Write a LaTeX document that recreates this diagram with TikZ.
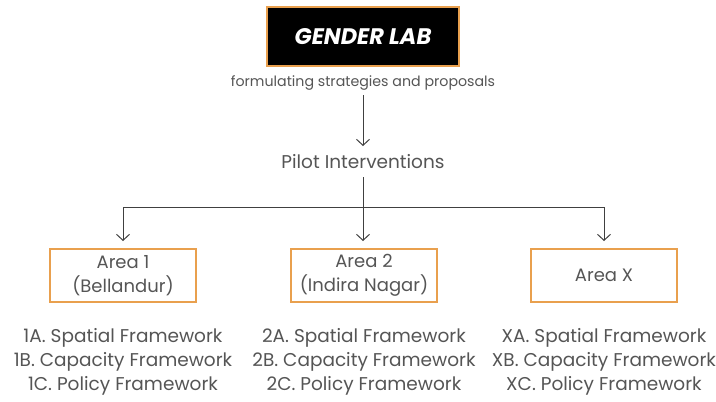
\documentclass[tikz,border=0pt]{standalone}
\usepackage{fontspec}
\setmainfont{Poppins}
\usetikzlibrary{arrows.meta}
\definecolor{txt}{HTML}{555555}
\definecolor{ln}{HTML}{404040}
\definecolor{org}{HTML}{E9A04E}
\begin{document}
\begin{tikzpicture}[x=1pt,y=-1pt,
  conn/.style={draw=ln,line width=1pt,-{Straight Barb[length=6pt,width=13pt,line width=1pt]}},
  plain/.style={draw=ln,line width=1pt},
  areabox/.style={draw=org,line width=1.3pt,minimum width=146pt,minimum height=53pt,text=txt,font=\fontsize{18}{24}\selectfont,align=center,inner sep=0pt},
  listtxt/.style={text=txt,font=\fontsize{18.5}{24}\selectfont,align=center,inner sep=0pt}]
\useasboundingbox (0,0) rectangle (716,402);
\node[fill=black,draw=org,line width=1.3pt,minimum width=192pt,minimum height=59pt,inner sep=0pt,text=white,font=\fontsize{22.5}{26}\selectfont\bfseries\itshape] (lab) at (363,36.5) {GENDER LAB};
\node[text=txt,font=\fontsize{14.2}{16}\selectfont,inner sep=0pt] (sub) at (363,83) {formulating strategies and proposals};
\node[text=txt,font=\fontsize{18.5}{22}\selectfont,inner sep=0pt] (pilot) at (363,162) {Pilot Interventions};
\node[areabox] (a1) at (123,275.5) {Area 1\\(Bellandur)};
\node[areabox] (a2) at (364,275.5) {Area 2\\(Indira Nagar)};
\node[areabox] (ax) at (604,275.5) {Area X};
\node[listtxt] (l1) at (123,362) {1A. Spatial Framework\\1B. Capacity Framework\\1C. Policy Framework};
\node[listtxt] (l2) at (364,362) {2A. Spatial Framework\\2B. Capacity Framework\\2C. Policy Framework};
\node[listtxt] (lx) at (604,362) {XA. Spatial Framework\\XB. Capacity Framework\\XC. Policy Framework};
\coordinate (top1) at (363,95);
\coordinate (bot1) at (363,146);
\coordinate (ps) at (363,177);
\coordinate (hl) at (123,207);
\coordinate (hr) at (604,207);
\coordinate (e1) at (123,241);
\coordinate (e2) at (363,241);
\coordinate (ex) at (604,241);
\draw[conn] (top1) -- (bot1);
\draw[conn] (ps) -- (e2);
\draw[plain] (hl) -- (hr);
\draw[conn] (hl) -- (e1);
\draw[conn] (hr) -- (ex);
\end{tikzpicture}
\end{document}
